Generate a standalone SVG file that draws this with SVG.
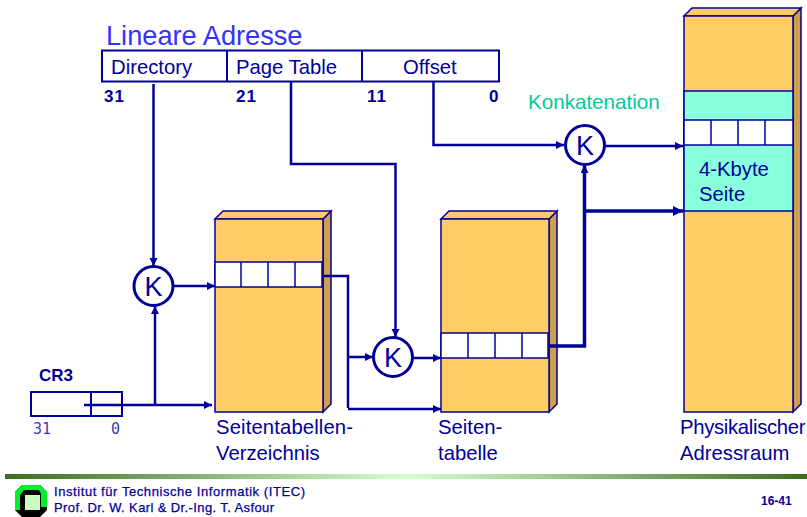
<svg xmlns="http://www.w3.org/2000/svg" width="807" height="517" viewBox="0 0 807 517">
<style>
text{font-family:"Liberation Sans",Arial,sans-serif;fill:#000099}
.lbl{font-size:20.300px}
.num{font-size:17px;font-weight:bold;letter-spacing:1px}
.box{fill:none;stroke:#000099;stroke-width:2}
.front{fill:#ffcc66;stroke:#000099;stroke-width:1.5}
.top{fill:#ffcc66;stroke:#000099;stroke-width:1.5}
.side{fill:#cc9e4f;stroke:#000099;stroke-width:1.5}
.row{fill:#fff;stroke:#000099;stroke-width:1.5}
.sep{stroke:#000099;stroke-width:1.5;fill:none}
.k{fill:#fff;stroke:#000099;stroke-width:3}
.kt{font-size:27px;text-anchor:middle}
.c{fill:none;stroke:#000099;stroke-width:2.5}
.t{fill:none;stroke:#000099;stroke-width:3.5}
.foot{font-size:13px;stroke:#000099;stroke-width:.25px}
.mono{font-family:"DejaVu Sans Mono","Liberation Mono",monospace;font-size:15px;fill:#3d3daa}
</style>
<defs>
<marker id="a" markerUnits="userSpaceOnUse" markerWidth="10" markerHeight="10" refX="8" refY="4" orient="auto"><path d="M0 0L8 4L0 8Z" fill="#000099"/></marker>
<marker id="b" markerUnits="userSpaceOnUse" markerWidth="12" markerHeight="12" refX="10" refY="5" orient="auto"><path d="M0 0L10 5L0 10Z" fill="#000099"/></marker>
<linearGradient id="g"><stop offset="0" stop-color="#3c6e1e"/><stop offset=".5" stop-color="#d6ffd0"/><stop offset="1" stop-color="#3c6e1e"/></linearGradient>
</defs>
<g id="linear-address">
<text x="106" y="45" font-size="27.200" style="fill:#3333ff">Lineare Adresse</text>
<rect class="box" x="102" y="50.500" width="397" height="31"/>
<path class="box" d="M227 50V81M362 50V81"/>
<text class="lbl" x="111" y="74">Directory</text>
<text class="lbl" x="236" y="74">Page Table</text>
<text class="lbl" x="403" y="74">Offset</text>
<text class="num" x="104" y="102">31</text>
<text class="num" x="236" y="102">21</text>
<text class="num" x="367" y="102">11</text>
<text class="num" x="489" y="102">0</text>
</g>
<text x="528" y="109" font-size="20.600" style="fill:#00cc99">Konkatenation</text>
<g id="seitentabellen-verzeichnis">
<path class="side" d="M323 219L331 211V404L323 412Z"/>
<path class="top" d="M215 219L223 211H331L323 219Z"/>
<rect class="front" x="215" y="219" width="108" height="193"/>
<rect class="row" x="215" y="262" width="107" height="25"/>
<path class="sep" d="M241 262V287M268 262V287M295 262V287"/>
<text class="lbl" x="216" y="434" textLength="137">Seitentabellen-</text>
<text class="lbl" x="216" y="460">Verzeichnis</text>
</g>
<g id="seitentabelle">
<path class="side" d="M549 219L557 211V404L549 412Z"/>
<path class="top" d="M441 219L449 211H557L549 219Z"/>
<rect class="front" x="441" y="219" width="108" height="193"/>
<rect class="row" x="441" y="333" width="107" height="25"/>
<path class="sep" d="M468 333V358M495 333V358M522 333V358"/>
<text class="lbl" x="438" y="434">Seiten-</text>
<text class="lbl" x="438" y="460">tabelle</text>
</g>
<g id="adressraum">
<path class="side" d="M793 16L801 8V404L793 412Z"/>
<path class="top" d="M684 16L692 8H801L793 16Z"/>
<rect class="front" x="684" y="16" width="109" height="396"/>
<rect x="684" y="91" width="109" height="120" fill="#88ffdd" stroke="#000099" stroke-width="1.5"/>
<rect class="row" x="684" y="120" width="109" height="25"/>
<path class="sep" d="M711 120V145M738 120V145M765 120V145"/>
<text class="lbl" x="699" y="176">4-Kbyte</text>
<text class="lbl" x="699" y="201">Seite</text>
<text class="lbl" x="680" y="434" textLength="125.500">Physikalischer</text>
<text class="lbl" x="680" y="460">Adressraum</text>
</g>
<g id="cr3">
<text x="39" y="381" font-size="17" font-weight="bold">CR3</text>
<rect class="box" x="31" y="392" width="91" height="24"/>
<path class="box" d="M91 392V416"/>
<text class="mono" x="33" y="434">31</text>
<text class="mono" x="111" y="434">0</text>
</g>
<g id="connectors">
<path class="c" marker-end="url(#a)" d="M153.500 84V266"/>
<path class="c" marker-end="url(#a)" d="M291 81V164H395.500V337"/>
<path class="c" marker-end="url(#a)" d="M433.500 81V145H564"/>
<path class="c" marker-end="url(#a)" d="M605 146H683"/>
<path class="c" marker-end="url(#a)" d="M174 286H215"/>
<path class="c" marker-end="url(#a)" d="M413 358H441"/>
<path class="c" d="M323 276H348V408"/>
<path class="c" marker-end="url(#a)" d="M348 357H373"/>
<path class="c" marker-end="url(#a)" d="M348 409H441"/>
<path class="c" marker-end="url(#a)" d="M84 405H212"/>
<path class="c" marker-end="url(#a)" d="M155 405V306"/>
<path class="t" d="M549 346H584.500V166"/>
<path class="c" marker-end="url(#a)" d="M584.500 186V165"/>
<path class="t" marker-end="url(#b)" d="M584.500 211H683"/>
</g>
<g id="k1"><circle class="k" cx="153.500" cy="286" r="19.500"/><text class="kt" x="153.500" y="295.500">K</text></g>
<g id="k2"><circle class="k" cx="393" cy="357" r="19.500"/><text class="kt" x="393" y="366.500">K</text></g>
<g id="k3"><circle class="k" cx="585" cy="145" r="19.500"/><text class="kt" x="585" y="154.500">K</text></g>
<g id="footer">
<rect x="5" y="474" width="802" height="5" fill="url(#g)"/>
<path d="M22 485H40L47 492V510L40 517H22L15 510V492Z" fill="#000"/>
<path d="M22 485H40L47 492V507H41V494L39 490H24L20 495V510L15 510V492Z" fill="#00f02c"/>
<rect x="25" y="495" width="15" height="15" fill="#c8ffc0"/>
<text class="foot" x="54" y="496" textLength="251">Institut für Technische Informatik (ITEC)</text>
<text class="foot" x="54" y="512" textLength="220">Prof. Dr. W. Karl &amp; Dr.-Ing. T. Asfour</text>
<text x="761" y="505" font-size="12" font-weight="bold">16-41</text>
</g>
</svg>
